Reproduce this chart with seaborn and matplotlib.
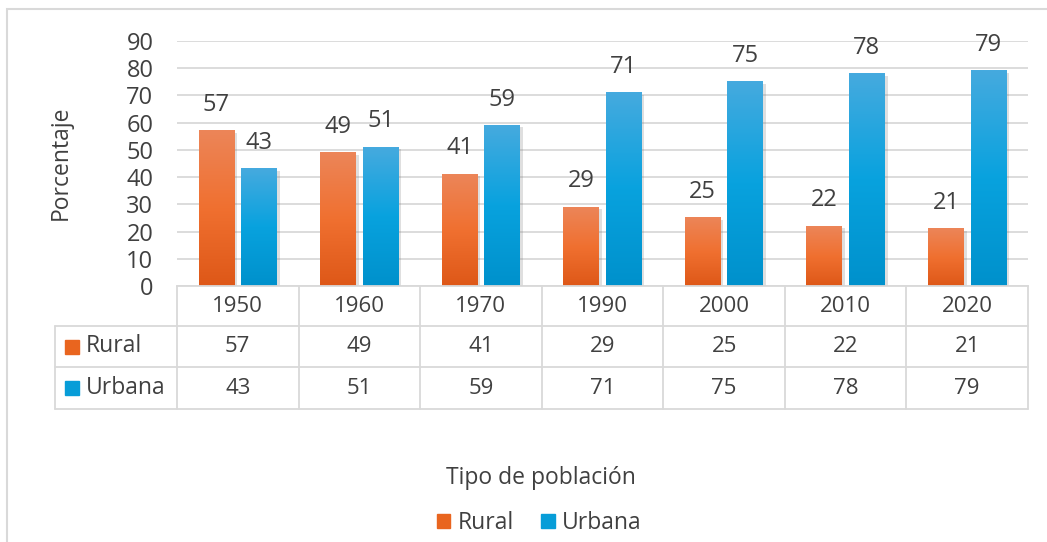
import numpy as np
import pandas as pd
import matplotlib
matplotlib.use("Agg")
import matplotlib.pyplot as plt
import seaborn as sns
from matplotlib.colors import LinearSegmentedColormap
from matplotlib.patches import Patch, Rectangle
from matplotlib.transforms import blended_transform_factory
from matplotlib import patheffects as pe

# data
years = ["1950", "1960", "1970", "1990", "2000", "2010", "2020"]
rural = [57, 49, 41, 29, 25, 22, 21]
urbana = [43, 51, 59, 71, 75, 78, 79]
series = ["Rural", "Urbana"]

df = pd.DataFrame({
    "Año": years * 2,
    "Porcentaje": rural + urbana,
    "Tipo": ["Rural"] * len(years) + ["Urbana"] * len(years),
})

sns.set_style("white")
plt.rcParams["font.family"] = ["Open Sans", "DejaVu Sans"]

txt = "#404040"
grid_c = "#D9D9D9"
cols = {"Rural": "#E9651F", "Urbana": "#079DD8"}
grads = {
    "Rural": ["#DE5818", "#F07030", "#EC8558"],
    "Urbana": ["#0091CC", "#08A2DE", "#45AADF"],
}

W, H = 1047, 542
fig = plt.figure(figsize=(W / 100, H / 100), dpi=100)
ax_l, ax_r, ax_t, ax_b = 177, 1028, 41, 286
ax = fig.add_axes([ax_l / W, 1 - ax_b / H, (ax_r - ax_l) / W, (ax_b - ax_t) / H])

# outer chart border
fig.patches.append(Rectangle((7 / W, -0.1), 1.2, 1.1 - 9 / H,
                             transform=fig.transFigure, fill=False,
                             edgecolor="#D9D9D9", lw=1.5, zorder=0))

sns.barplot(data=df, x="Año", y="Porcentaje", hue="Tipo", palette=cols,
            width=0.7, gap=0.16, ax=ax, legend=False, errorbar=None,
            saturation=1)

# gradient fill + shadow on bars
for cont, name in zip(ax.containers, series):
    cmap = LinearSegmentedColormap.from_list(name, grads[name])
    for p in cont:
        x, w, h = p.get_x(), p.get_width(), p.get_height()
        p.set_path_effects([pe.SimplePatchShadow(offset=(2, -1.5), alpha=0.25,
                                                 shadow_rgbFace="#808080"),
                            pe.Normal()])
        p.set_edgecolor("none")
        g = np.linspace(0, 1, 100).reshape(-1, 1)
        ax.imshow(g, extent=[x, x + w, 0, h], origin="lower", aspect="auto",
                  cmap=cmap, zorder=p.get_zorder() + 0.1)
    ax.bar_label(cont, padding=10, fontsize=17, color=txt)

ax.set_xlim(-0.5, len(years) - 0.5)
ax.set_ylim(0, 90)
ax.set_yticks(range(0, 91, 10))
ax.yaxis.grid(True, color=grid_c, lw=1.3)
ax.set_axisbelow(True)
for s in ["top", "right", "left"]:
    ax.spines[s].set_visible(False)
ax.spines["bottom"].set_color(grid_c)
ax.spines["bottom"].set_linewidth(1.3)
ax.tick_params(axis="y", length=0, pad=17, labelsize=17, labelcolor=txt)
ax.tick_params(axis="x", length=0, labelbottom=False)
ax.set_xlabel("")
ax.set_ylabel("")

# data table under the plot
tr = blended_transform_factory(ax.transData, ax.transAxes)
hpx = ax_b - ax_t
r = [0, -(326 - ax_b) / hpx, -(367 - ax_b) / hpx, -(409 - ax_b) / hpx]
n = len(years)
for k in range(n + 1):
    ax.plot([k - 0.5, k - 0.5], [r[0], r[3]], transform=tr, color=grid_c,
            lw=1.3, clip_on=False)
ax.plot([-1.5, -1.5], [r[1], r[3]], transform=tr, color=grid_c, lw=1.3,
        clip_on=False)
for yy in r[1:]:
    ax.plot([-1.5, n - 0.5], [yy, yy], transform=tr, color=grid_c, lw=1.3,
            clip_on=False)

for i, yr in enumerate(years):
    ax.text(i, (r[0] + r[1]) / 2, yr, transform=tr, ha="center", va="center",
            fontsize=16, color=txt)
    ax.text(i, (r[1] + r[2]) / 2, str(rural[i]), transform=tr, ha="center",
            va="center", fontsize=16, color=txt)
    ax.text(i, (r[2] + r[3]) / 2, str(urbana[i]), transform=tr, ha="center",
            va="center", fontsize=16, color=txt)

key_x = -0.5 - (177 - 72) / 121.6
lab_x = -0.5 - (177 - 86) / 121.6
for j, name in enumerate(series):
    ym = (r[j + 1] + r[j + 2]) / 2
    ax.plot([key_x], [ym], marker="s", ms=10, color=cols[name], transform=tr,
            clip_on=False, ls="none")
    ax.text(lab_x, ym, name, transform=tr, ha="left", va="center",
            fontsize=16.5, color=txt)

# axis titles
fig.text(61 / W, 1 - 163 / H, "Porcentaje", rotation=90, ha="center",
         va="center", fontsize=16.5, color=txt)
fig.text(541 / W, 1 - 478 / H, "Tipo de población", ha="center", va="center",
         fontsize=16.5, color=txt)

handles = [Patch(color=cols[s], label=s) for s in series]
fig.legend(handles=handles, loc="center", bbox_to_anchor=(539 / W, 1 - 523 / H),
           ncol=2, frameon=False, fontsize=16.5, handlelength=0.6,
           handleheight=0.6, handletextpad=0.3, columnspacing=1.2,
           labelcolor=txt)

fig.savefig("out.png", dpi=100)
